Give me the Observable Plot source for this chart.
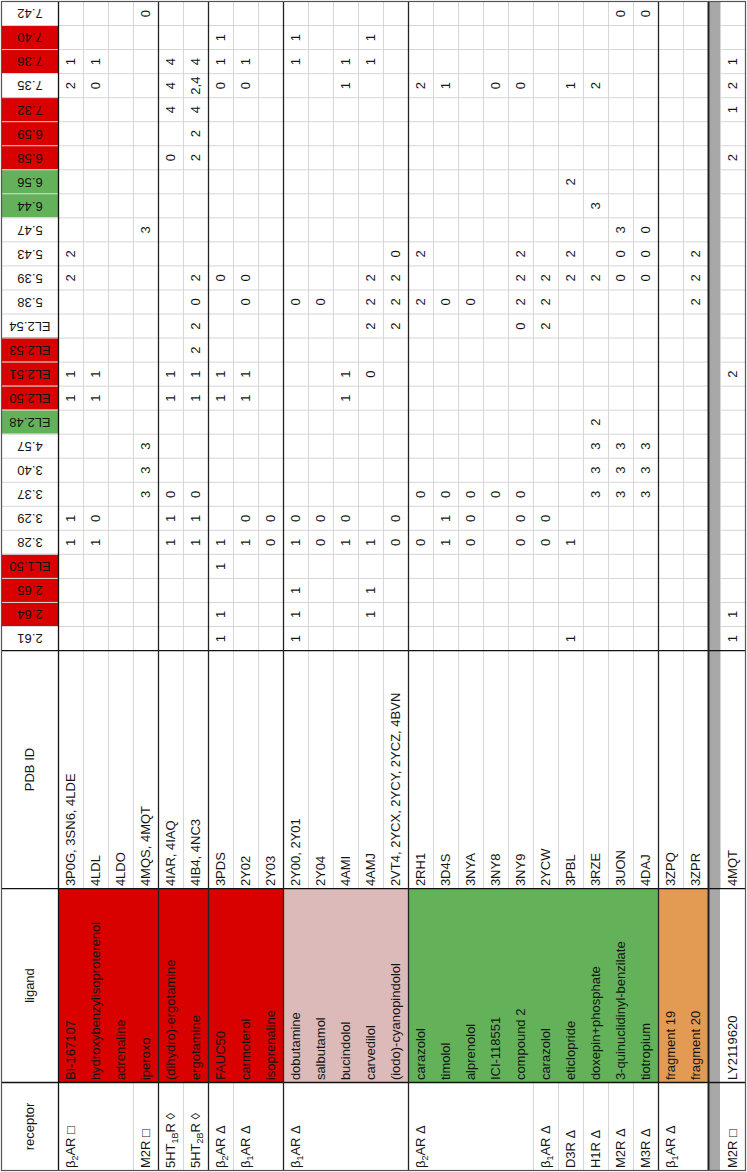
<!DOCTYPE html>
<html><head><meta charset="utf-8">
<script src="https://cdn.jsdelivr.net/npm/d3@7"></script>
<script src="https://cdn.jsdelivr.net/npm/@observablehq/plot@0.6"></script>
<style>html,body{margin:0;padding:0;background:#fff} svg{display:block}</style>
</head><body><div id="chart"></div>
<script>
// ---- data ----
const residues = ["7.42","7.40","7.36","7.35","7.32","6.59","6.58","6.56","6.44","5.47","5.43","5.39","5.38","EL2.54","EL2.53","EL2.51","EL2.50","EL2.48","4.57","3.40","3.37","3.29","3.28","EL1.50","2.65","2.64","2.61"];
const redResidues = ["7.40","7.36","7.32","6.59","6.58","EL2.53","EL2.51","EL2.50","EL1.50","2.65","2.64"];
const greenResidues = ["6.56","6.44","EL2.48"];

const ligands = ["BI-167107","hydroxybenzylisoproterenol","adrenaline","iperoxo","(dihydro)-ergotamine","ergotamine","FAUC50","carmoterol","isoprenaline","dobutamine","salbutamol","bucindolol","carvedilol","(iodo)-cyanopindolol","carazolol","timolol","alprenolol","ICI-118551","compound 2","carazolol","eticlopride","doxepin+phosphate","3-quinuclidinyl-benzilate","tiotropium","fragment 19","fragment 20","LY2119620"];
const pdbIds = ["3P0G, 3SN6, 4LDE","4LDL","4LDO","4MQS, 4MQT","4IAR, 4IAQ","4IB4, 4NC3","3PDS","2Y02","2Y03","2Y00, 2Y01","2Y04","4AMI","4AMJ","2VT4, 2YCX, 2YCY, 2YCZ, 4BVN","2RH1","3D4S","3NYA","3NY8","3NY9","2YCW","3PBL","3RZE","3UON","4DAJ","3ZPQ","3ZPR","4MQT"];
const receptors = ["β_{2}AR □","","","M2R □","5HT_{1B}R ◊","5HT_{2B}R ◊","β_{2}AR Δ","β_{1}AR Δ","","β_{1}AR Δ","","","","","β_{2}AR Δ","","","","","β_{1}AR Δ","D3R Δ","H1R Δ","M2R Δ","M3R Δ","β_{1}AR Δ","","M2R □"];
const ligandClass = ["agonist","agonist","agonist","agonist","agonist","agonist","agonist","agonist","agonist","partial","partial","partial","partial","partial","antagonist","antagonist","antagonist","antagonist","antagonist","antagonist","antagonist","antagonist","antagonist","antagonist","fragment","fragment","allosteric"];
const groups = [1,1,1,1,2,2,3,3,3,4,4,4,4,4,5,5,5,5,5,5,5,5,5,5,6,6,7];
const contacts = [
  {"7.36":1,"7.35":2,"5.43":2,"5.39":2,"EL2.51":1,"EL2.50":1,"3.29":1,"3.28":1},
  {"7.36":1,"7.35":0,"EL2.51":1,"EL2.50":1,"3.29":0,"3.28":1},
  {},
  {"7.42":0,"5.47":3,"4.57":3,"3.40":3,"3.37":3},
  {"7.36":4,"7.35":4,"7.32":4,"6.58":0,"EL2.51":1,"EL2.50":1,"3.37":0,"3.29":1,"3.28":1},
  {"7.36":4,"7.35":"2,4","7.32":4,"6.59":2,"6.58":2,"5.39":2,"5.38":0,"EL2.54":2,"EL2.53":2,"EL2.51":1,"EL2.50":1,"3.37":0,"3.29":1,"3.28":1},
  {"7.40":1,"7.36":1,"7.35":0,"5.39":0,"EL2.51":1,"EL2.50":1,"3.28":1,"EL1.50":1,"2.64":1,"2.61":1},
  {"7.36":1,"7.35":0,"5.39":0,"5.38":0,"EL2.51":1,"EL2.50":1,"3.29":0,"3.28":1},
  {"3.29":0,"3.28":0},
  {"7.40":1,"7.36":1,"5.38":0,"3.29":0,"3.28":1,"2.65":1,"2.64":1,"2.61":1},
  {"5.38":0,"3.29":0,"3.28":0},
  {"7.36":1,"7.35":1,"EL2.51":1,"EL2.50":1,"3.29":0,"3.28":1},
  {"7.40":1,"7.36":1,"5.39":2,"5.38":2,"EL2.54":2,"EL2.51":0,"3.28":1,"2.65":1,"2.64":1},
  {"5.43":0,"5.39":2,"5.38":2,"EL2.54":2,"3.29":0,"3.28":0},
  {"7.35":2,"5.43":2,"5.38":2,"3.37":0,"3.28":0},
  {"7.35":1,"5.38":0,"3.37":0,"3.29":1,"3.28":1},
  {"5.38":0,"3.37":0,"3.29":0,"3.28":0},
  {"7.35":0,"3.37":0},
  {"7.35":0,"5.43":2,"5.39":2,"5.38":2,"EL2.54":0,"3.37":0,"3.29":0,"3.28":0},
  {"5.39":2,"5.38":2,"EL2.54":2,"3.29":0,"3.28":0},
  {"7.35":1,"6.56":2,"5.43":2,"5.39":2,"3.28":1,"2.61":1},
  {"7.35":2,"6.44":3,"5.39":2,"EL2.48":2,"4.57":3,"3.40":3,"3.37":3},
  {"7.42":0,"5.47":3,"5.43":0,"5.39":0,"4.57":3,"3.40":3,"3.37":3},
  {"7.42":0,"5.47":0,"5.43":0,"5.39":0,"4.57":3,"3.40":3,"3.37":3},
  {},
  {"5.43":2,"5.39":2,"5.38":2},
  {"7.36":1,"7.35":2,"7.32":1,"6.58":2,"EL2.51":2,"2.64":1,"2.61":1}
];
const headerLabels = ["PDB ID","ligand","receptor"];

// ---- styling / layout (units: one row / one residue band) ----
const classColor = {agonist:"#d90000", partial:"#dcbaba", antagonist:"#63b25a", fragment:"#e39a52", allosteric:"#ffffff"};
const FONT = "'Liberation Sans', Arial, Helvetica, sans-serif";
const HDR = 2.28, GAP = 0.48;
const nR = residues.length, nL = ligands.length;
const PDB = 9.9, LIG = 8.07, REC = 3.66;
const yPdb0 = nR, yLig0 = nR + PDB, yRec0 = yLig0 + LIG, yEnd = yRec0 + REC;
const gapIndex = nL - 1;
const rowX = i => (i >= gapIndex ? i + GAP : i);
const xEnd = nL + GAP;
const PAD = 0.1;

const rows = ligands.map((l, i) => ({i, x: rowX(i), ligand: l, pdb: pdbIds[i], receptor: receptors[i], cls: ligandClass[i], group: groups[i]}));
const resIdx = r => residues.indexOf(r);
const cells = contacts.flatMap((c, i) => Object.entries(c).map(([r, v]) => ({x: rowX(i), k: resIdx(r), v: String(v)})));
const headerCells = residues.map((r, k) => ({r, k, fill: redResidues.includes(r) ? "#d90000" : greenResidues.includes(r) ? "#63b25a" : null})).filter(d => d.fill);

// grid lines
const hLines = d3.range(1, nR);
const innerV = rows.filter(d => d.i > 0 && d.i < gapIndex && groups[d.i] === groups[d.i - 1]).map(d => d.x);
const groupV = rows.filter(d => d.i > 0 && groups[d.i] !== groups[d.i - 1]).map(d => d.i === gapIndex ? gapIndex : d.x);
const recV = rows.filter(d => d.i > 0 && d.receptor && groups[d.i] === groups[d.i - 1]).map(d => d.x);
const bandBounds = [yPdb0, yLig0, yRec0];
const headerPos = [(yPdb0 + yLig0) / 2, (yLig0 + yRec0) / 2, (yRec0 + yEnd) / 2];

const TXT = "#151515";
const svg = Plot.plot({
  width: 747, height: 1172,
  marginTop: 1, marginBottom: 2, marginLeft: 1, marginRight: 2,
  x: {domain: [-HDR, xEnd], axis: null},
  y: {domain: [0, yEnd], reverse: true, axis: null},
  style: {fontFamily: FONT, fontSize: "13px", background: "#fff", overflow: "visible"},
  marks: [
    Plot.rect(rows, {x1: d => d.x, x2: d => d.x + 1, y1: () => yLig0, y2: () => yRec0, fill: d => classColor[d.cls]}),
    Plot.rect(headerCells, {x1: () => -HDR, x2: () => 0, y1: d => d.k, y2: d => d.k + 1, fill: d => d.fill}),
    Plot.ruleY(hLines, {y: d => d, x1: () => -HDR, x2: () => xEnd, stroke: "#d6d6d6", strokeWidth: 1}),
    Plot.ruleX(innerV, {x: d => d, y1: () => 0, y2: () => yLig0, stroke: "#d6d6d6", strokeWidth: 1}),
    Plot.ruleX([xEnd - 1], {x: d => d, y1: () => 0, y2: () => yLig0, stroke: "#d6d6d6", strokeWidth: 1}),
    Plot.ruleX(recV, {x: d => d, y1: () => yRec0, y2: () => yEnd, stroke: "#d6d6d6", strokeWidth: 1}),
    Plot.rect([gapIndex], {x1: d => d, x2: d => d + GAP, y1: () => 0, y2: () => yEnd, fill: "#a8a8a8"}),
    Plot.ruleY(bandBounds, {y: d => d, x1: () => -HDR, x2: () => xEnd, stroke: "#111", strokeWidth: 1.3}),
    Plot.ruleX([0], {x: d => d, y1: () => 0, y2: () => yEnd, stroke: "#111", strokeWidth: 1.3}),
    Plot.ruleX(groupV, {x: d => d, y1: () => 0, y2: () => yEnd, stroke: "#222", strokeWidth: d => d === gapIndex ? 2 : 1.3}),
    Plot.frame({stroke: "#555", strokeWidth: 1.2}),
    // texts
    Plot.text(residues, {x: () => -HDR / 2, y: (d, k) => k + 0.5, text: d => d, rotate: 180, fontSize: 13, fill: TXT}),
    Plot.text(headerLabels, {x: () => -HDR / 2, y: (d, k) => headerPos[k], text: d => d, rotate: -90, fontSize: 13, fill: TXT}),
    Plot.text(cells, {x: d => d.x + 0.5, y: d => d.k + 0.5, text: d => d.v, rotate: -90, fontSize: 13, fill: TXT}),
    Plot.text(rows, {x: d => d.x + 0.5, y: () => yLig0 - PAD, text: d => d.pdb, rotate: -90, textAnchor: "start", fontSize: 13, fill: TXT}),
    Plot.text(rows, {x: d => d.x + 0.5, y: () => yRec0 - PAD, text: d => d.ligand, rotate: -90, textAnchor: "start", fontSize: 13, fill: TXT}),
    Plot.text(rows.filter(d => d.receptor), {x: d => d.x + 0.5, y: () => yEnd - PAD, text: d => d.receptor, rotate: -90, textAnchor: "start", fontSize: 13, fill: TXT})
  ]
});

// subscripts in receptor names (β_{2}AR -> β₂AR as real tspans)
svg.querySelectorAll("text").forEach(t => {
  const s = t.textContent;
  if (!s.includes("_{")) return;
  while (t.firstChild) t.removeChild(t.firstChild);
  const parts = s.split(/_\{([^}]*)\}/);
  const NS = "http://www.w3.org/2000/svg";
  parts.forEach((p, j) => {
    if (!p) return;
    const ts = document.createElementNS(NS, "tspan");
    ts.textContent = p;
    if (j % 2 === 1) { ts.setAttribute("font-size", "9"); ts.setAttribute("dy", "3"); }
    else if (j > 0) { ts.setAttribute("dy", "-3"); }
    t.appendChild(ts);
  });
});
document.getElementById("chart").appendChild(svg);
</script>
</body></html>
